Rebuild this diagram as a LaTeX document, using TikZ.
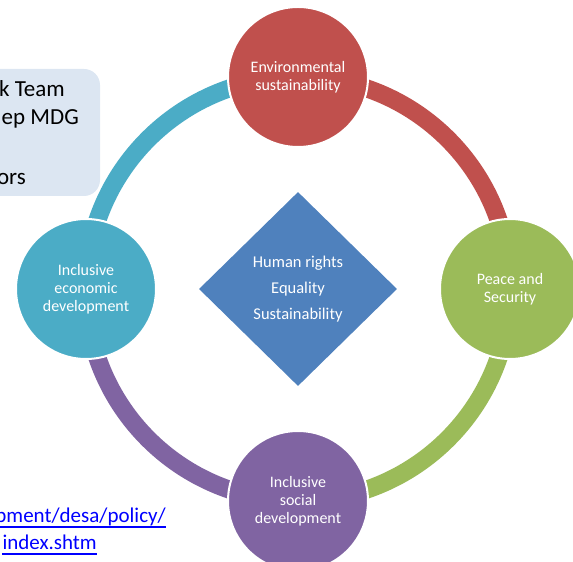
\documentclass[tikz,border=0pt]{standalone}
\usepackage{fontspec}
\setmainfont{Carlito}
\usetikzlibrary{shapes.geometric}

\definecolor{envred}{HTML}{C0504D}
\definecolor{peacegreen}{HTML}{9BBB59}
\definecolor{socialpurple}{HTML}{8064A2}
\definecolor{econteal}{HTML}{4BACC6}
\definecolor{coreblue}{HTML}{4F81BD}
\definecolor{notefill}{HTML}{DCE6F2}
\definecolor{linkblue}{HTML}{0000FF}

\begin{document}
\begin{tikzpicture}[x=1pt, y=1pt,
  goal/.style={circle, minimum size=140pt, inner sep=0pt, draw=white,
    line width=2pt, text=white, align=center,
    font=\fontsize{16}{18}\selectfont},
  ring/.style={line width=18pt},
  notetext/.style={anchor=base east, inner sep=0pt,
    font=\fontsize{23}{28}\selectfont},
  linktext/.style={anchor=base east, inner sep=0pt, text=linkblue,
    font=\fontsize{21}{26}\selectfont}]

  % Fix the frame of the picture
  \useasboundingbox (0,0) rectangle (573,562);
  \clip (0,0) rectangle (573,562);

  % Define the center of the ring
  \coordinate (O) at (298,273);

  % Define the radius of the ring
  \def\R{212}

  % Define the places of the four goals on the ring
  \coordinate (envpos) at ([shift={(90:\R)}]O);
  \coordinate (peacepos) at ([shift={(0:\R)}]O);
  \coordinate (socialpos) at ([shift={(-90:\R)}]O);
  \coordinate (econpos) at ([shift={(180:\R)}]O);

  % Note box in the upper left corner, cut by the frame
  \fill[notefill, rounded corners=16pt] (-30,366) rectangle (100,493);
  \node[notetext] (team) at (65,465) {k Team};
  \node[notetext] (mdg) at (79,437) {ep MDG};
  \node[notetext] (ors) at (26,377) {ors};

  % Draw the ring, one quarter per goal
  \draw[ring, envred] (envpos) arc[start angle=90, end angle=0, radius=\R];
  \draw[ring, peacegreen] (peacepos) arc[start angle=0, end angle=-90, radius=\R];
  \draw[ring, socialpurple] (socialpos) arc[start angle=-90, end angle=-180, radius=\R];
  \draw[ring, econteal] (econpos) arc[start angle=180, end angle=90, radius=\R];

  % Add the four goals
  \node[goal, fill=envred] (env) at (envpos) {Environmental\\sustainability};
  \node[goal, fill=peacegreen] (peace) at (peacepos) {Peace and\\Security};
  \node[goal, fill=socialpurple] (social) at (socialpos) {Inclusive\\social\\development};
  \node[goal, fill=econteal] (econ) at (econpos) {Inclusive\\economic\\development};

  % Add the diamond in the middle
  \node[diamond, fill=coreblue, minimum width=198pt, minimum height=194pt,
    inner sep=0pt, text=white, align=center,
    font=\fontsize{16.5}{26}\selectfont] (core) at (O)
    {Human rights\\Equality\\Sustainability};

  % Add the link at the bottom left, cut by the frame
  \node[linktext] (link1) at (166,39) {pment/desa/policy/};
  \node[linktext] (link2) at (97,12) {index.shtm};
  \draw[linkblue, line width=1.3pt] ([yshift=-4pt]link1.base west) -- ([yshift=-4pt]link1.base east);
  \draw[linkblue, line width=1.3pt] ([yshift=-4pt]link2.base west) -- ([yshift=-4pt]link2.base east);

\end{tikzpicture}
\end{document}
